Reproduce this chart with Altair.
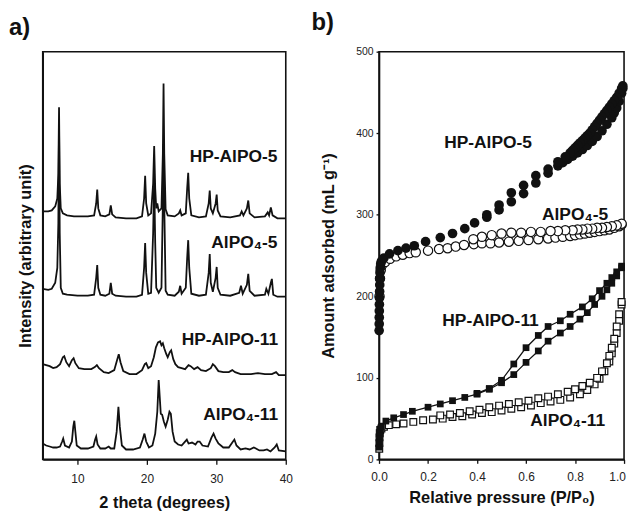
import altair as alt
import pandas as pd

# ---------------- Panel a: XRD patterns (2 theta, intensity in arbitrary units) ----------------
xrd_names = ["HP-AlPO-5", "AlPO₄-5", "HP-AlPO-11", "AlPO₄-11"]

tt_hp5 = [5.0, 5.8, 6.3, 6.8, 7.1, 7.25, 7.35, 7.45, 7.6, 7.9, 8.5, 9.5, 10.5, 11.5, 12.4, 12.7, 12.85, 13.0, 13.3,
          14.0, 14.6, 14.8, 15.0, 15.5, 17.0, 18.5, 19.3, 19.6, 19.75, 19.9, 20.2, 20.6, 20.9, 21.05, 21.2, 21.35,
          21.5, 21.7, 22.1, 22.3, 22.4, 22.5, 22.7, 23.0, 24.0, 24.6, 24.8, 25.0, 25.6, 25.8, 25.95, 26.1, 26.4,
          27.5, 28.5, 28.9, 29.05, 29.2, 29.5, 29.9, 30.05, 30.2, 30.6, 32.0, 33.4, 33.65, 33.9, 34.4, 34.6, 34.8,
          35.5, 37.0, 37.4, 37.6, 37.85, 38.1, 38.8, 40.0]
in_hp5 = [250, 250, 251, 255, 263, 288, 355, 278, 253, 248, 246, 245, 245, 245, 246, 258, 272, 253, 246,
          245, 247, 256, 247, 244, 243, 243, 245, 263, 286, 258, 246, 248, 278, 316, 273, 253,
          258, 250, 253, 308, 379, 308, 252, 246, 245, 248, 251, 246, 248, 273, 289, 263, 246,
          244, 245, 258, 271, 253, 248, 258, 267, 251, 245, 244, 246, 250, 246, 253, 261, 248,
          244, 245, 249, 246, 254, 246, 243, 243]

tt_a5 = [5.0, 5.8, 6.3, 6.8, 7.1, 7.25, 7.35, 7.45, 7.6, 7.9, 8.5, 10.0, 11.5, 12.4, 12.7, 12.85, 13.0, 13.3,
         14.0, 14.6, 14.8, 15.0, 15.5, 17.0, 18.5, 19.3, 19.6, 19.75, 19.9, 20.2, 20.6, 20.9, 21.05, 21.2, 21.35,
         21.7, 22.1, 22.3, 22.4, 22.5, 22.7, 23.0, 24.0, 24.6, 24.8, 25.0, 25.6, 25.8, 25.95, 26.1, 26.4,
         27.5, 28.5, 28.9, 29.05, 29.2, 29.5, 29.9, 30.05, 30.2, 30.6, 32.0, 33.3, 33.55, 33.8, 34.4, 34.6, 34.8,
         35.5, 37.0, 37.2, 37.5, 37.85, 38.0, 38.2, 38.8, 40.0]
in_a5 = [172, 171, 172, 178, 193, 238, 338, 228, 173, 167, 166, 165, 165, 166, 183, 196, 173, 166,
         165, 167, 178, 167, 165, 164, 164, 166, 193, 218, 188, 167, 168, 228, 283, 218, 173,
         168, 173, 258, 318, 258, 170, 166, 165, 169, 175, 167, 173, 203, 221, 193, 167,
         165, 166, 188, 207, 178, 169, 183, 194, 173, 166, 165, 168, 175, 167, 176, 187, 170,
         165, 166, 172, 167, 178, 182, 166, 164, 164]

tt_hp11 = [5.0, 5.5, 6.0, 6.5, 7.0, 7.5, 7.9, 8.1, 8.4, 8.8, 9.2, 9.45, 9.7, 10.2, 11.0, 12.0, 12.5, 12.8, 13.1,
           13.8, 14.5, 15.3, 15.7, 15.95, 16.2, 16.6, 17.5, 18.5, 19.3, 19.7, 19.9, 20.2, 20.6, 21.0, 21.3, 21.6,
           21.9, 22.1, 22.3, 22.5, 22.8, 23.0, 23.3, 23.5, 23.8, 24.1, 24.5, 25.0, 25.5, 26.0, 26.3, 26.8, 27.3,
           27.8, 28.5, 29.2, 29.5, 29.8, 30.3, 31.0, 31.8, 32.3, 32.7, 33.5, 35.0, 36.0, 37.0, 38.0, 38.6, 39.0, 40.0]
in_hp11 = [96, 95, 94, 92, 93, 96, 103, 104, 98, 94, 100, 102, 97, 92, 91, 91, 93, 95, 92,
           88, 87, 90, 100, 106, 98, 89, 86, 86, 90, 96, 97, 92, 94, 103, 113, 118,
           119, 115, 117, 112, 106, 103, 108, 110, 101, 96, 93, 92, 91, 95, 94, 91, 93,
           90, 89, 92, 96, 94, 89, 88, 88, 90, 88, 86, 86, 87, 86, 86, 88, 85, 85]

tt_a11 = [5.0, 5.5, 6.0, 6.5, 7.0, 7.5, 7.8, 7.95, 8.2, 8.8, 9.2, 9.4, 9.55, 9.7, 9.9, 10.5, 11.5, 12.3, 12.55,
          12.7, 12.9, 13.3, 14.0, 14.5, 14.8, 15.3, 15.65, 15.9, 16.1, 16.4, 17.0, 18.0, 19.0, 19.4, 19.65, 19.9,
          20.3, 20.8, 21.2, 21.5, 21.7, 21.85, 22.0, 22.2, 22.45, 22.7, 23.0, 23.25, 23.45, 23.7, 24.0, 24.5,
          25.0, 25.5, 25.75, 26.0, 26.5, 27.0, 27.3, 27.6, 28.0, 28.8, 29.3, 29.6, 29.9, 30.3, 31.0, 31.8, 32.3,
          32.6, 32.9, 33.5, 34.2, 34.8, 35.4, 35.7, 36.2, 36.8, 37.3, 37.8, 38.4, 38.7, 39.0, 40.0]
in_a11 = [16, 14, 13, 12, 12, 13, 18, 21, 14, 12, 18, 33, 39, 28, 14, 11, 11, 13, 20,
          23, 15, 11, 11, 13, 11, 11, 28, 53, 33, 14, 10, 10, 12, 20, 26, 18,
          12, 14, 26, 48, 80, 63, 46, 45, 38, 33, 40, 48, 46, 28, 18, 15,
          14, 18, 20, 16, 17, 15, 18, 18, 14, 13, 22, 26, 21, 16, 12, 12, 17,
          20, 14, 10, 11, 10, 12, 11, 9, 9, 10, 8, 12, 15, 9, 8]

xrd_tt = [tt_hp5, tt_a5, tt_hp11, tt_a11]
xrd_int = [in_hp5, in_a5, in_hp11, in_a11]

# label anchors (2 theta, intensity)
xrd_label_tt = [38.8, 38.8, 38.9, 38.9]
xrd_label_int = [305, 218, 120, 45]

# ---------------- Panel b: N2 isotherms (P/P0, mL/g) ----------------
hp5_ads_p = [0.0005, 0.0008, 0.001, 0.0012, 0.0015, 0.002, 0.0025, 0.003, 0.0035, 0.004, 0.005, 0.007, 0.01, 0.02,
             0.043, 0.077, 0.11, 0.144, 0.19, 0.25, 0.30, 0.35, 0.39, 0.44, 0.49, 0.54, 0.59, 0.64, 0.69, 0.73,
             0.75, 0.77, 0.79, 0.81, 0.83, 0.85, 0.87, 0.89, 0.91, 0.93, 0.95, 0.96, 0.97, 0.98, 0.99, 0.995]
hp5_ads_v = [158, 166, 174, 182, 190, 198, 206, 214, 222, 229, 235, 240, 243, 247,
             252, 256, 259, 262, 267, 272, 277, 283, 290, 297, 306, 316, 326, 339, 351, 360,
             364, 368, 372, 376, 380, 385, 390, 396, 403, 411, 419, 425, 431, 439, 449, 455]
hp5_des_p = [0.995, 0.99, 0.98, 0.97, 0.96, 0.95, 0.94, 0.93, 0.92, 0.91, 0.90, 0.89, 0.88, 0.87, 0.86, 0.85,
             0.84, 0.83, 0.82, 0.81, 0.80, 0.79, 0.78, 0.76, 0.73, 0.69, 0.64, 0.59, 0.54, 0.49, 0.44]
hp5_des_v = [458, 455, 449, 444, 440, 436, 432, 428, 424, 420, 416, 412, 408, 404, 400, 397,
             394, 391, 388, 385, 382, 379, 376, 371, 365, 356, 348, 336, 327, 312, 300]

a5_ads_p = [0.002, 0.004, 0.007, 0.012, 0.025, 0.045, 0.07, 0.097, 0.125, 0.15, 0.2, 0.245, 0.28, 0.313, 0.347,
            0.387, 0.42, 0.455, 0.49, 0.53, 0.57, 0.61, 0.65, 0.69, 0.72, 0.75, 0.78, 0.8, 0.82, 0.84, 0.86,
            0.88, 0.9, 0.92, 0.94, 0.96, 0.98, 0.99]
a5_ads_v = [200, 222, 232, 238, 242, 246, 249, 251, 253, 254, 256, 258, 259, 261, 263,
            264, 265, 265, 266, 267, 268, 269, 270, 271, 272, 273, 274, 275, 276, 277, 278,
            279, 280, 281, 282, 284, 286, 288]
a5_des_p = [0.99, 0.97, 0.95, 0.93, 0.91, 0.89, 0.87, 0.85, 0.83, 0.81, 0.79, 0.76, 0.73, 0.70, 0.66, 0.62,
            0.58, 0.54, 0.5, 0.46, 0.42, 0.385]
a5_des_v = [289, 287, 286, 285, 284, 284, 283, 283, 282, 282, 281, 281, 280, 280, 279, 279,
            278, 278, 277, 275, 273, 270]

hp11_ads_p = [0.001, 0.0015, 0.002, 0.003, 0.005, 0.01, 0.028, 0.06, 0.1, 0.136, 0.2, 0.25, 0.3, 0.35, 0.4, 0.45,
              0.5, 0.55, 0.6, 0.65, 0.69, 0.74, 0.78, 0.82, 0.85, 0.88, 0.91, 0.93, 0.95, 0.97, 0.99]
hp11_ads_v = [15, 22, 28, 33, 37, 40, 47, 51, 55, 59, 64, 68, 72, 76, 80, 86,
              94, 104, 119, 133, 145, 155, 163, 172, 180, 190, 200, 208, 216, 225, 235]
hp11_des_p = [0.99, 0.97, 0.95, 0.93, 0.9, 0.87, 0.83, 0.78, 0.74, 0.69, 0.65, 0.6, 0.55, 0.5, 0.45, 0.4]
hp11_des_v = [237, 230, 223, 216, 207, 197, 187, 178, 170, 163, 152, 137, 117, 97, 87, 81]

a11_ads_p = [0.001, 0.0015, 0.002, 0.003, 0.005, 0.01, 0.02, 0.04, 0.07, 0.1, 0.14, 0.18, 0.22, 0.26, 0.3, 0.34,
             0.38, 0.42, 0.46, 0.5, 0.54, 0.58, 0.62, 0.66, 0.7, 0.74, 0.78, 0.82, 0.85, 0.88, 0.9, 0.92, 0.94,
             0.95, 0.96, 0.97, 0.98, 0.99]
a11_ads_v = [13, 20, 27, 32, 36, 38, 40, 42, 43, 44, 46, 48, 49, 50, 52, 53,
             55, 57, 58, 60, 62, 64, 66, 69, 71, 73, 76, 80, 85, 92, 99, 108, 120,
             130, 142, 155, 170, 190]
a11_des_p = [0.99, 0.98, 0.97, 0.96, 0.95, 0.94, 0.93, 0.91, 0.89, 0.86, 0.83, 0.8, 0.77, 0.73, 0.69, 0.65,
             0.61, 0.57, 0.53, 0.49, 0.45, 0.41, 0.37, 0.33, 0.29, 0.25]
a11_des_v = [193, 178, 163, 148, 137, 127, 118, 108, 100, 94, 90, 86, 83, 80, 77, 75,
             72, 70, 68, 66, 64, 61, 59, 57, 55, 54]

iso_names = ["HP-AlPO-5", "AlPO₄-5", "HP-AlPO-11", "AlPO₄-11"]
iso_label_p = [0.445, 0.80, 0.455, 0.77]
iso_label_v = [388, 300, 170, 47]

FONT = "Liberation Sans"

# ---------------- build tables ----------------
rows = []
for name, tt, ii in zip(xrd_names, xrd_tt, xrd_int):
    for t, i in zip(tt, ii):
        rows.append({"trace": name, "tt": t, "intensity": i})
xrd = pd.DataFrame(rows)
xrd_lab = pd.DataFrame({"name": xrd_names, "tt": xrd_label_tt, "intensity": xrd_label_int})


def branch_df(sample, p_ads, v_ads, p_des, v_des):
    r = []
    for k, (p, v) in enumerate(zip(p_ads, v_ads)):
        r.append({"sample": sample, "branch": "ads", "idx": k, "p": p, "v": v})
    for k, (p, v) in enumerate(zip(p_des, v_des)):
        r.append({"sample": sample, "branch": "des", "idx": k, "p": p, "v": v})
    return pd.DataFrame(r)


hp5 = branch_df("HP-AlPO-5", hp5_ads_p, hp5_ads_v, hp5_des_p, hp5_des_v)
a5 = branch_df("AlPO4-5", a5_ads_p, a5_ads_v, a5_des_p, a5_des_v)
hp11 = branch_df("HP-AlPO-11", hp11_ads_p, hp11_ads_v, hp11_des_p, hp11_des_v)
a11 = branch_df("AlPO4-11", a11_ads_p, a11_ads_v, a11_des_p, a11_des_v)
iso_lab = pd.DataFrame({"name": iso_names, "p": iso_label_p, "v": iso_label_v})

# ---------------- panel a ----------------
xa = alt.X("tt:Q", scale=alt.Scale(domain=[5, 40], nice=False, zero=False),
           axis=alt.Axis(title="2 theta (degrees)", values=[10, 20, 30, 40], tickSize=5, labelPadding=9,
                         labelFlush=False, titlePadding=10))
ya = alt.Y("intensity:Q", scale=alt.Scale(domain=[0, 411], nice=False),
           axis=alt.Axis(title="Intensity (arbitrary unit)", labels=False, ticks=False, titlePadding=9))

lines_a = alt.Chart(xrd).mark_line(color="#111", strokeWidth=1.8, strokeJoin="miter").encode(
    x=xa, y=ya, detail="trace:N")
text_a = alt.Chart(xrd_lab).mark_text(align="right", baseline="middle", font=FONT, fontSize=17.5,
                                      fontWeight="bold", color="#111").encode(
    x=alt.X("tt:Q"), y=alt.Y("intensity:Q"), text="name:N")

panel_a = alt.layer(lines_a, text_a).properties(
    width=245, height=411,
    title=alt.TitleParams("a)", anchor="start", frame="group", dx=-34, offset=-7, fontSize=24,
                          font=FONT, fontWeight="bold", color="#111", baseline="alphabetic"))

# ---------------- panel b ----------------
xb = alt.X("p:Q", scale=alt.Scale(domain=[0, 1], nice=False),
           axis=alt.Axis(title="Relative pressure (P/P₀)", values=[0, 0.2, 0.4, 0.6, 0.8, 1.0], format=".1f",
                         tickSize=4, labelPadding=8, labelFlush=False, titlePadding=7,
                         labelOffset={"condition": {"test": "datum.value == 1", "value": -7}, "value": 0}))
yb = alt.Y("v:Q", scale=alt.Scale(domain=[0, 500], nice=False),
           axis=alt.Axis(title="Amount adsorbed (mL g⁻¹)", values=[0, 100, 200, 300, 400, 500],
                         tickSize=3, labelPadding=3, labelFontSize=10.5, labelFlush=False, titlePadding=19))

open_circ = alt.Chart(a5).mark_point(shape="circle", size=88, filled=True, fill="white", stroke="#111",
                                     strokeWidth=1.2, opacity=1).encode(x=xb, y=yb)
fill_circ = alt.Chart(hp5).mark_point(shape="circle", size=95, filled=True, color="#111", opacity=1).encode(
    x=xb, y=yb)
open_sq = alt.Chart(a11).mark_point(shape="square", size=46, filled=True, fill="white", stroke="#111",
                                    strokeWidth=1.2, opacity=1).encode(x=xb, y=yb)
line_sq = alt.Chart(hp11).mark_line(color="#111", strokeWidth=1.3).encode(
    x=xb, y=yb, detail="branch:N", order="idx:Q")
fill_sq = alt.Chart(hp11).mark_point(shape="square", size=46, filled=True, color="#111", opacity=1).encode(
    x=xb, y=yb)
text_b = alt.Chart(iso_lab).mark_text(align="center", baseline="middle", font=FONT, fontSize=17.5,
                                      fontWeight="bold", color="#111").encode(
    x=alt.X("p:Q"), y=alt.Y("v:Q"), text="name:N")

panel_b = alt.layer(open_circ, fill_circ, open_sq, line_sq, fill_sq, text_b).properties(
    width=247, height=411,
    title=alt.TitleParams("b)", anchor="start", frame="group", dx=-68, offset=-7, fontSize=24,
                          font=FONT, fontWeight="bold", color="#111", baseline="alphabetic"))

chart = alt.hconcat(panel_a, panel_b, spacing=94, bounds="flush").properties(
    padding={"left": 0, "top": 0, "right": 0, "bottom": 0}
).configure_view(
    stroke="#111", strokeWidth=1.6
).configure_axis(
    grid=False, domainColor="#111", domainWidth=1.6, tickColor="#111", tickWidth=1.3,
    labelFont=FONT, labelFontSize=12, labelColor="#222",
    titleFont=FONT, titleFontSize=16.5, titleFontWeight="bold", titleColor="#111"
)

chart.save("out.html", embed_options={"renderer": "svg", "actions": False})
